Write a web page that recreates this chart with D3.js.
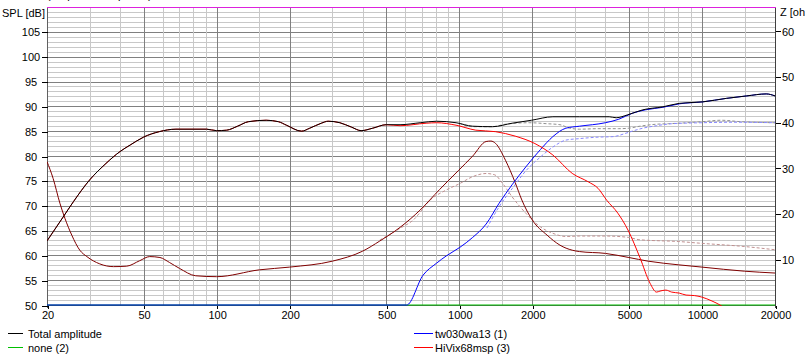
<!DOCTYPE html>
<html><head><meta charset="utf-8">
<script src="https://cdn.jsdelivr.net/npm/d3@7"></script>
<style>
html,body{margin:0;padding:0;background:#fff;}
svg{display:block;font-family:"Liberation Sans",Arial,sans-serif;font-size:11px;}
</style></head><body>
<svg id="c" width="805" height="355"></svg>
<script>
// ---- data ----
const splTicks = [50,55,60,65,70,75,80,85,90,95,100,105];
const zTicks = [10,20,30,40,50,60];
const freqTicks = [20,50,100,200,500,1000,2000,5000,10000,20000];
const freqMinorGrid = [30,40,60,70,80,90,150,300,400,600,700,800,900,1500,3000,4000,6000,7000,8000,9000,15000];
const freqMajorGrid = [50,100,200,500,1000,2000,5000,10000];

const totalFreq = [20,23.3,25.7,30,35,40,44,50,58,68,91,100,110,122,135,160,180,194,224,242,270,288,322,360,394,440,500,570,690,805,970,1135,1370,1650,1985,2430,3130,4150,4430,4950,5710,6900,8060,10070,12600,15300,18400,20000];
const totalSpl  = [62.9,67.7,70.8,75.2,78.5,80.9,82.2,83.8,84.9,85.4,85.4,85.1,85.2,86.0,86.9,87.2,86.9,86.2,85.0,85.6,86.6,87.0,86.7,85.8,85.1,85.6,86.3,86.3,86.7,87.0,86.7,86.0,85.9,86.6,87.2,87.9,87.9,87.9,87.7,88.3,89.3,89.9,90.6,90.9,91.6,92.1,92.5,92.1];

const noneFreq = [20,20000];
const noneSpl  = [50,50];

const tweeterFreq = [20,607,709,805,885,1005,1135,1290,1460,1650,1880,2160,2430,2750,3130,4000,4540,5160,5860,6900,8060,10070,12600,15300,18400,20000];
const tweeterSpl  = [50,50,56.0,58.4,59.9,61.6,63.6,66.3,70.5,74.2,77.8,81.3,83.9,85.6,86.0,86.7,87.4,88.6,89.3,89.8,90.5,90.9,91.6,92.1,92.5,92.1];

const wooferFreq = [20,23.3,25.7,30,35,40,44,50,58,68,91,100,110,122,135,160,180,194,224,242,270,288,322,360,394,440,500,570,730,805,970,1170,1410,1700,2050,2430,2920,3400,3730,4050,4500,4956,5556,6108,6500,6714,7100,7500,8060,8600,9300,9976,11000,11870,12500];
const wooferSpl  = [62.9,67.7,70.8,75.2,78.5,80.9,82.2,83.8,84.9,85.4,85.4,85.1,85.2,86.0,86.9,87.2,86.9,86.2,85.0,85.6,86.6,87.0,86.7,85.8,85.1,85.6,86.3,86.1,86.6,86.7,86.2,85.2,84.9,84.0,82.5,80.2,76.5,74.8,73.5,71.1,68.5,65.1,59.5,54.4,52.6,52.8,53.0,52.6,52.4,52.0,51.9,51.6,50.8,50.0,49.3];

const prevTotalFreq = [1000,1135,1370,1550,1940,2300,2600,2850,3130,3730,4540,5000,5550,6500,7300,10000,12000,14500,20000];
const prevTotalSpl  = [86.6,85.9,85.9,86.4,86.7,86.5,86.3,85.6,85.4,85.5,85.5,85.6,86.0,86.4,86.5,86.9,87.2,86.9,86.7];

const prevTweeterFreq = [1300,1460,1650,1880,2160,2430,2750,3130,3730,4300,4870,5160,5710,6500,7500,10000,14000,20000];
const prevTweeterSpl  = [65.5,69.8,73.4,77.0,79.8,81.8,83.2,83.5,83.8,83.9,84.6,85.0,85.6,86.1,86.5,86.7,86.8,86.7];

const impFreq = [20,21.2,22.6,23.7,25.3,27.3,29.2,33,37.6,42.6,48.2,53,58.4,64,70.4,82,100,150,200,300,400,470,570,690,830,990,1135,1290,1350,1410,1550,1700,1810,2000,2300,2600,2920,3130,4000,5000,6000,8000,10000,15000,20000];
const impOhm  = [31.4,27.7,22.3,19.0,15.3,12.0,10.6,9.0,8.4,8.5,9.7,10.6,10.4,9.3,8.0,6.4,6.2,7.7,8.3,9.6,11.8,14.0,17.0,20.8,25.3,29.4,32.6,35.8,35.9,35.4,31.7,26.8,23.0,18.6,15.3,13.1,12.0,11.7,11.3,10.4,9.6,8.8,8.3,7.4,7.0];

const prevImpFreq = [470,570,646,759,885,1005,1135,1290,1400,1510,1650,1880,2160,2430,2750,3130,4000,5000,5500,8000,10000,15000,20000];
const prevImpOhm  = [14.2,16.8,18.6,23.0,25.2,26.6,28.1,28.8,28.5,26.6,23.7,20.1,17.1,15.7,15.0,15.1,15.1,14.8,14.3,13.9,13.5,12.8,12.1];

const legendLeft  = ["Total amplitude","none (2)"];
const legendRight = ["tw030wa13 (1)","HiVix68msp (3)"];

// ---- layout ----
const L=47, R=775, T=7, B=305;
const svg = d3.select("#c");
const x = d3.scaleLog().domain([20,20000]).range([L,R]);
const y = d3.scaleLinear().domain([50,110]).range([B,T]);
const yZ = d3.scaleLinear().domain([0,298/4.5667]).range([B,T]);
const px = v => Math.round(v)+0.5;

svg.append("rect").attr("width",805).attr("height",355).attr("fill","#fff");

// clipped title (only its lower edge is visible in the reference)
svg.append("text").attr("x",47).attr("y",-1).attr("fill","#000").text("(Amplitude response)");

const grid = svg.append("g").attr("shape-rendering","crispEdges");
d3.range(51,110).forEach(v=>{
  grid.append("line").attr("x1",L).attr("x2",R).attr("y1",px(y(v))).attr("y2",px(y(v)))
    .attr("stroke", v%5===0 ? "#808080" : "#c8c8c8");
});
freqMinorGrid.forEach(f=>{
  grid.append("line").attr("x1",px(x(f))).attr("x2",px(x(f))).attr("y1",T).attr("y2",B).attr("stroke","#c8c8c8");
});
freqMajorGrid.forEach(f=>{
  grid.append("line").attr("x1",px(x(f))).attr("x2",px(x(f))).attr("y1",T).attr("y2",B).attr("stroke","#808080");
});
grid.append("line").attr("x1",px(L)).attr("x2",px(L)).attr("y1",T).attr("y2",B+3).attr("stroke","#606060");
grid.append("line").attr("x1",px(R)).attr("x2",px(R)).attr("y1",T).attr("y2",B+3).attr("stroke","#404040");
grid.append("line").attr("x1",L).attr("x2",R+1).attr("y1",px(T)).attr("y2",px(T)).attr("stroke","#dd22dd");
grid.append("line").attr("x1",L).attr("x2",R).attr("y1",px(B)).attr("y2",px(B)).attr("stroke","#606060");

// left axis
const yAxis = d3.axisLeft(y).tickValues(splTicks).tickSize(6).tickFormat(d3.format("d"));
const ga = svg.append("g").attr("transform",`translate(${L+0.5},0.5)`).call(yAxis);
ga.select(".domain").remove();
ga.selectAll(".tick line").attr("stroke","#000").attr("shape-rendering","crispEdges");
ga.selectAll(".tick text").attr("x",-16.5).attr("text-anchor","middle").attr("fill","#000")
  .style("font-family","Liberation Sans, Arial, sans-serif").style("font-size","11px");

// right axis
const zAxis = d3.axisRight(yZ).tickValues(zTicks).tickSize(5).tickFormat(d3.format("d"));
const gz = svg.append("g").attr("transform",`translate(${R+0.5},0.5)`).call(zAxis);
gz.select(".domain").remove();
gz.selectAll(".tick line").attr("stroke","#000").attr("shape-rendering","crispEdges");
gz.selectAll(".tick text").attr("x",6.5).attr("fill","#000")
  .style("font-family","Liberation Sans, Arial, sans-serif").style("font-size","11px");

// bottom axis
const xAxis = d3.axisBottom(x).tickValues(freqTicks).tickSize(3).tickFormat(d3.format("d"));
const gx = svg.append("g").attr("transform",`translate(0.5,${B+0.5})`).call(xAxis);
gx.select(".domain").remove();
gx.selectAll(".tick line").attr("stroke","#000").attr("shape-rendering","crispEdges");
gx.selectAll(".tick text").attr("y",6).attr("fill","#000")
  .style("font-family","Liberation Sans, Arial, sans-serif").style("font-size","11px");

svg.append("text").attr("x",2).attr("y",17).attr("fill","#000").text("SPL [dB]");
svg.append("text").attr("x",780).attr("y",16).attr("fill","#000").text("Z [ohm]");

// curves
svg.append("defs").append("clipPath").attr("id","pc").append("rect")
  .attr("x",L).attr("y",T).attr("width",R-L+1).attr("height",B-T+1);
const plot = svg.append("g").attr("clip-path","url(#pc)");

function draw(fr, vals, scale, color, dash){
  const pts = fr.map((f,i)=>[x(f), scale(vals[i])]);
  const line = d3.line().curve(d3.curveMonotoneX);
  const p = plot.append("path").attr("d",line(pts)).attr("fill","none")
    .attr("stroke",color).attr("stroke-width",1);
  if(dash) p.attr("stroke-dasharray",dash);
  return p;
}
draw(prevImpFreq, prevImpOhm, yZ, "#c09090", "3,2");
draw(prevTotalFreq, prevTotalSpl, y, "#909090", "3,2");
draw(prevTweeterFreq, prevTweeterSpl, y, "#8888ff", "3,2");
draw(impFreq, impOhm, yZ, "#800000");
draw(noneFreq, noneSpl, y, "#00c000");
draw(tweeterFreq, tweeterSpl, y, "#0000ff");
draw(wooferFreq, wooferSpl, y, "#ff0000");
draw(totalFreq, totalSpl, y, "#000000");

// legend
const lg = svg.append("g");
const legColsL = ["#000000","#00c000"], legColsR = ["#0000ff","#ff0000"];
legendLeft.forEach((t,i)=>{
  const yy = 333.5 + i*14;
  lg.append("line").attr("x1",8).attr("x2",23).attr("y1",yy).attr("y2",yy).attr("stroke",legColsL[i]);
  lg.append("text").attr("x",28).attr("y",yy+4.5).attr("fill","#000").text(t);
});
legendRight.forEach((t,i)=>{
  const yy = 333.5 + i*14;
  lg.append("line").attr("x1",414).attr("x2",433).attr("y1",yy).attr("y2",yy).attr("stroke",legColsR[i]);
  lg.append("text").attr("x",435).attr("y",yy+4.5).attr("fill","#000").text(t);
});
</script>
</body></html>
